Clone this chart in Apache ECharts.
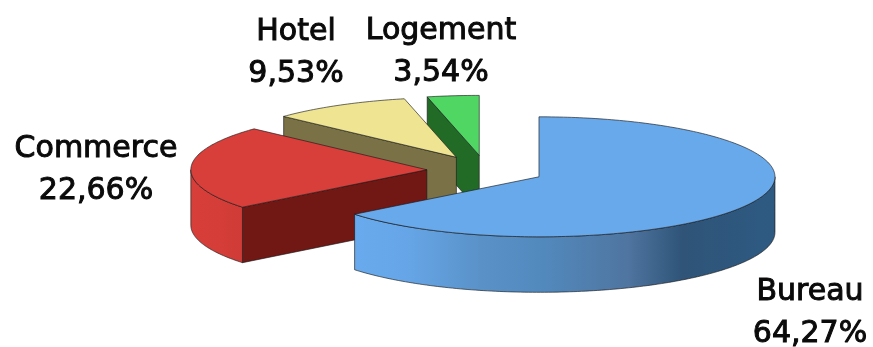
<!DOCTYPE html>
<html>
<head>
<meta charset="utf-8">
<style>html,body{margin:0;padding:0;background:#fff}#chart{width:873px;height:347px}</style>
<script src="https://cdn.jsdelivr.net/npm/echarts@6/dist/echarts.min.js"></script>
</head>
<body>
<div id="chart"></div>
<script>
// Building use breakdown, drawn as an exploded tilted pie.
const categories = ['Bureau', 'Commerce', 'Hotel', 'Logement'];
const shares = [64.27, 22.66, 9.53, 3.54];

// Pie geometry in pixels.
const centerX = 485.8, centerY = 170.3, radiusX = 236, radiusY = 60, depth = 55.5, explode = 59;

// Colours per slice: top face, cut face, rim (left to right).
const topColors = ['#68a9ec', '#d83e3a', '#eee491', '#50d763'];
const cutColors = ['#2e5478', '#711714', '#7a7146', '#226b26'];
const rimStops = [
  [[0, '#68aaed'], [0.12, '#66a6e8'], [0.3, '#5a92c8'], [0.45, '#5289bd'], [0.65, '#4f75a0'], [0.78, '#2f5478'], [1, '#2e5a82']],
  [[0, '#d83e3a'], [0.6, '#d43d38'], [1, '#cf3b37']],
  [[0, '#7a7146'], [1, '#7a7146']],
  [[0, '#226b26'], [1, '#226b26']]
];
const outline = 'rgba(25,25,25,0.8)';

// Label anchors: centre of the two-line block.
const labelX = [810, 96, 296, 441];
const labelY = [313.5, 170, 53, 52];

const total = shares.reduce((a, b) => a + b, 0);
const percentText = v => v.toFixed(2).replace('.', ',') + '%';

function sliceAngles(index) {
  let before = 0;
  for (let i = 0; i < index; i++) before += shares[i];
  return [before / total * 360, (before + shares[index]) / total * 360];
}

function rimPoint(cx, cy, deg, drop) {
  const r = deg * Math.PI / 180;
  return [cx + radiusX * Math.sin(r), cy - radiusY * Math.cos(r) + drop];
}

function arcPoints(cx, cy, from, to, drop) {
  const pts = [];
  const steps = Math.max(2, Math.ceil(Math.abs(to - from)));
  for (let i = 0; i <= steps; i++) pts.push(rimPoint(cx, cy, from + (to - from) * i / steps, drop));
  return pts;
}

function renderSlice(params, api) {
  const i = params.dataIndex;
  const [start, end] = sliceAngles(i);
  const mid = (start + end) / 2 * Math.PI / 180;
  const cx = centerX + explode * Math.sin(mid);
  const cy = centerY - explode * (radiusY / radiusX) * Math.cos(mid);
  const z2 = (categories.length - i) * 10;
  const children = [];
  const poly = (points, fill, order) => children.push({
    type: 'polygon', z2: z2 + order, shape: { points },
    style: { fill, stroke: outline, lineWidth: 0.8, lineJoin: 'round' }
  });

  // Cut faces turned towards the viewer.
  const startTip = rimPoint(cx, cy, start, 0), endTip = rimPoint(cx, cy, end, 0);
  if (Math.sin(start * Math.PI / 180) < -1e-6) {
    poly([[cx, cy], startTip, [startTip[0], startTip[1] + depth], [cx, cy + depth]], cutColors[i], 0);
  }
  if (Math.sin(end * Math.PI / 180) > 1e-6) {
    poly([[cx, cy], endTip, [endTip[0], endTip[1] + depth], [cx, cy + depth]], cutColors[i], 0);
  }

  // Outer rim, front half only.
  const rimFrom = Math.max(start, 90), rimTo = Math.min(end, 270);
  if (rimTo > rimFrom) {
    const upper = arcPoints(cx, cy, rimFrom, rimTo, 0);
    const lower = arcPoints(cx, cy, rimTo, rimFrom, depth);
    const stops = rimStops[i].map(s => ({ offset: s[0], color: s[1] }));
    poly(upper.concat(lower), new echarts.graphic.LinearGradient(0, 0, 1, 0, stops), 1);
  }

  // Top face.
  poly([[cx, cy]].concat(arcPoints(cx, cy, start, end, 0)), topColors[i], 2);

  children.push({
    type: 'text', z2: 100,
    style: {
      text: categories[i] + '\n' + percentText(api.value(0)),
      x: labelX[i], y: labelY[i], align: 'center', verticalAlign: 'middle',
      fontFamily: 'DejaVu Sans', fontWeight: 400, fontSize: 30, lineHeight: 42,
      fill: '#0a0a0a', stroke: '#0a0a0a', lineWidth: 1
    }
  });
  return { type: 'group', children };
}

const chart = echarts.init(document.getElementById('chart'), null, { renderer: 'canvas' });
chart.setOption({
  animation: false,
  backgroundColor: '#ffffff',
  series: [{
    type: 'custom',
    coordinateSystem: 'none',
    silent: true,
    renderItem: renderSlice,
    data: shares.map(v => [v])
  }]
});
</script>
</body>
</html>
